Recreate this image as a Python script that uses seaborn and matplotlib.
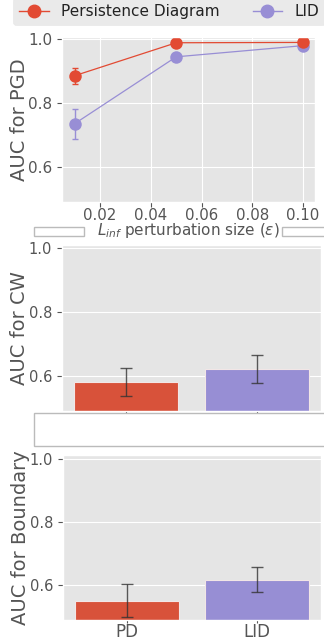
import matplotlib
matplotlib.use("Agg")
import matplotlib.pyplot as plt
from matplotlib.patches import Rectangle
from matplotlib.lines import Line2D
import seaborn as sns
import pandas as pd
import numpy as np

plt.style.use("ggplot")

# ---- data ----
eps = [0.01, 0.05, 0.10]
pd_pgd = [0.885, 0.988, 0.989]
pd_pgd_err = [0.025, 0.0, 0.0]
lid_pgd = [0.735, 0.944, 0.979]
lid_pgd_err = [0.047, 0.0, 0.0]

methods = ["PD", "LID"]
cw_auc = [0.580, 0.622]
cw_err = [0.044, 0.044]
bd_auc = [0.551, 0.618]
bd_err = [0.052, 0.040]

series_names = ["Persistence Diagram", "LID"]
RED = "#E24A33"
PURPLE = "#988ED5"
BAR_RED = "#D8523A"
BAR_PURPLE = "#978ED4"

W, H = 324, 642
fig = plt.figure(figsize=(W / 100, H / 100), dpi=100)
fig.patch.set_facecolor("white")

def fx(x):
    return x / W

def fy(y):
    return 1 - y / H

def add_ax(l, t, r, b):
    return fig.add_axes([fx(l), fy(b), fx(r) - fx(l), fy(t) - fy(b)])

YL = 14
GREY = "#555555"

# ---- panel 1: line plot ----
ax1 = add_ax(62, 37, 315, 202)
df_lid = pd.DataFrame({"eps": eps, "auc": lid_pgd})
df_pd = pd.DataFrame({"eps": eps, "auc": pd_pgd})
ax1.errorbar(eps, lid_pgd, yerr=lid_pgd_err, fmt="none", ecolor=PURPLE,
             elinewidth=1, capsize=2.5, zorder=1)
sns.lineplot(data=df_lid, x="eps", y="auc", color=PURPLE, marker="o",
             markersize=9, markeredgewidth=0, linewidth=0.9, ax=ax1)
ax1.errorbar(eps, pd_pgd, yerr=pd_pgd_err, fmt="none", ecolor=RED,
             elinewidth=1, capsize=2.5, zorder=3)
sns.lineplot(data=df_pd, x="eps", y="auc", color=RED, marker="o",
             markersize=9, markeredgewidth=0, linewidth=0.9, ax=ax1)
ax1.set_xlim(0.005, 0.1047)
ax1.set_ylim(0.49, 1.006)
ax1.set_xticks([0.02, 0.04, 0.06, 0.08, 0.10])
ax1.set_xticklabels(["0.02", "0.04", "0.06", "0.08", "0.10"])
ax1.set_yticks([0.6, 0.8, 1.0])
ax1.set_ylabel("AUC for PGD", fontsize=YL, color=GREY)
ax1.set_xlabel(r"$L_{inf}$ perturbation size ($\epsilon$)", fontsize=11,
               color=GREY)
ax1.xaxis.set_label_coords(0.5, -0.118)
ax1.tick_params(labelsize=11, colors=GREY)
ax1.tick_params(axis="x", labelsize=10.8, pad=0.5)

# ---- panel 2: CW bars ----
ax2 = add_ax(62, 245, 321, 411)
df2 = pd.DataFrame({"method": methods, "auc": cw_auc})
sns.barplot(data=df2, x="method", y="auc", hue="method",
            palette=[BAR_RED, BAR_PURPLE], saturation=1, width=0.8, ax=ax2,
            legend=False, edgecolor="#F2E6E6", linewidth=0.8)
ax2.errorbar([0, 1], cw_auc, yerr=cw_err, fmt="none", ecolor="#333333",
             elinewidth=1, capsize=4, alpha=0.8)
ax2.set_xlim(-0.49, 1.49)
ax2.set_ylim(0.49, 1.01)
ax2.set_yticks([0.6, 0.8, 1.0])
ax2.set_xticklabels([])
ax2.set_xlabel("")
ax2.set_ylabel("AUC for CW", fontsize=YL, color=GREY)
ax2.tick_params(labelsize=10.5, colors=GREY)

# ---- panel 3: Boundary bars ----
ax3 = add_ax(63, 455, 321, 620)
df3 = pd.DataFrame({"method": methods, "auc": bd_auc})
sns.barplot(data=df3, x="method", y="auc", hue="method",
            palette=[BAR_RED, BAR_PURPLE], saturation=1, width=0.8, ax=ax3,
            legend=False, edgecolor="#F2E6E6", linewidth=0.8)
ax3.errorbar([0, 1], bd_auc, yerr=bd_err, fmt="none", ecolor="#333333",
             elinewidth=1, capsize=4, alpha=0.8)
ax3.set_xlim(-0.49, 1.49)
ax3.set_ylim(0.49, 1.012)
ax3.set_yticks([0.6, 0.8, 1.0])
ax3.set_xlabel("")
ax3.set_ylabel("AUC for Boundary", fontsize=YL, color=GREY)
ax3.tick_params(labelsize=10.5, colors=GREY)
ax3.tick_params(axis="x", labelsize=12, length=2, pad=0.5)

ax1.yaxis.set_label_coords(-0.13, 0.5)
ax2.yaxis.set_label_coords(-0.127, 0.5)
ax3.yaxis.set_label_coords(-0.127, 0.5)

# ---- legend at top (cropped) ----
handles = [
    Line2D([], [], color=RED, marker="o", markersize=9, linewidth=1),
    Line2D([], [], color=PURPLE, marker="o", markersize=9, linewidth=1),
]
leg = fig.legend(handles, series_names, loc="lower left", ncol=2,
                 bbox_to_anchor=(fx(13), fy(25)), fontsize=11,
                 frameon=True, borderaxespad=0, columnspacing=2.15,
                 handlelength=1.95)
leg.get_frame().set_facecolor("#E5E5E5")
leg.get_frame().set_edgecolor("#E5E5E5")
for t in leg.get_texts():
    t.set_color("#222222")

# ---- empty white boxes (cropped legend frames of neighbouring figures) ----
for (l, t, r, b) in [(34, 227, 84, 236), (282, 227, 330, 236), (34, 413, 330, 446)]:
    fig.patches.append(Rectangle((fx(l), fy(b)), fx(r) - fx(l), fy(t) - fy(b),
                                 transform=fig.transFigure, facecolor="white",
                                 edgecolor="#BBBBBB", linewidth=1, zorder=3))

fig.savefig("out.png", dpi=100)
